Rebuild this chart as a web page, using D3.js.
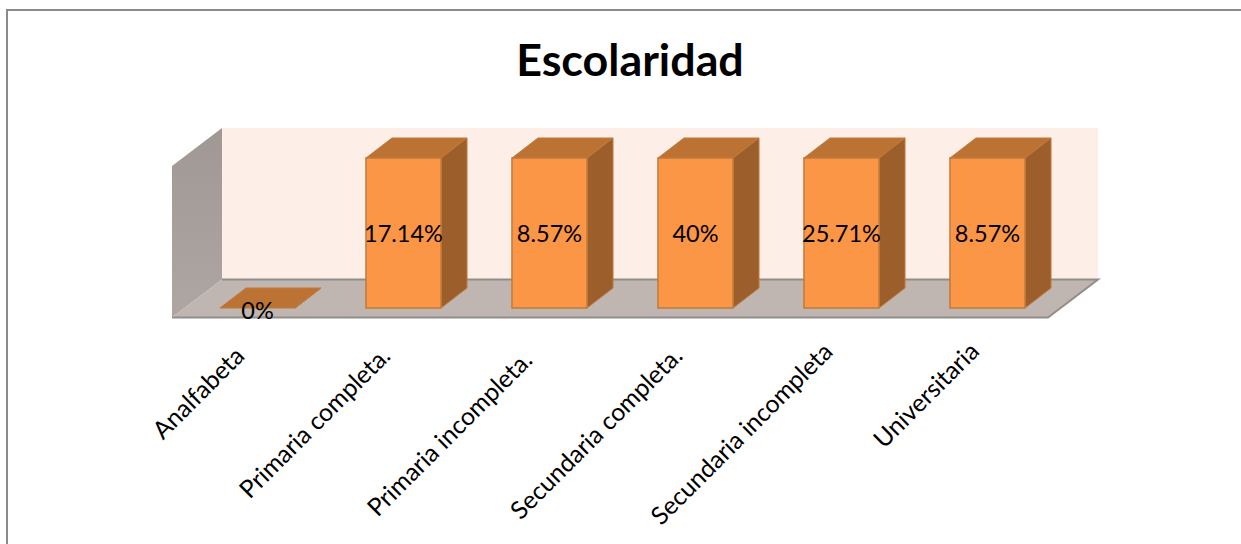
<!DOCTYPE html>
<html>
<head>
<meta charset="utf-8">
<script src="https://cdn.jsdelivr.net/npm/d3@7"></script>
<style>
    html, body { margin: 0; padding: 0; background: #fff; overflow: hidden; }
    text { font-family: Lato, "Open Sans", sans-serif; fill: #000; }
</style>
</head>
<body>
<div id="chart"></div>
<script>
var categories = ["Analfabeta", "Primaria completa.", "Primaria incompleta.", "Secundaria completa.", "Secundaria incompleta", "Universitaria"];
var values = [0, 17.14, 8.57, 40, 25.71, 8.57];
// the original axis stops at 8.57, taller bars are cut off there
var axis_domain = [0, 8.57];

var w = 1241;
var h = 544;

var left = 172;
var right = 1048;
var floor_front = 317.5;
// how far the floor/wall goes back
var depth_x = 50;
var depth_y = -38;
// how far the bars stand from the front edge of the floor
var inset_x = 12.5;
var inset_y = -9.5;
// bar depth
var bar_dx = 26;
var bar_dy = -20;

var svg = d3.select("#chart").append("svg").attr("width", w).attr("height", h);

var defs = svg.append("defs");
var grad = defs.append("linearGradient").attr("id", "side_wall").attr("x1", 0).attr("y1", 0).attr("x2", 0).attr("y2", 1);
grad.append("stop").attr("offset", "0%").attr("stop-color", "#a09895");
grad.append("stop").attr("offset", "100%").attr("stop-color", "#aea6a3");

function poly(points) {
    return points.map(function (p) { return p.join(","); }).join(" ");
}

//outer frame, open on the right and at the bottom
svg.append("path")
    .attr("d", "M7,544V10H1241")
    .attr("fill", "none")
    .attr("stroke", "#8a8a8a")
    .attr("stroke-width", 2);

svg.append("text")
    .attr("x", 630)
    .attr("y", 76)
    .attr("text-anchor", "middle")
    .attr("font-size", "44.8px")
    .attr("font-weight", "bold")
    .text("Escolaridad");

var xScale = d3.scaleBand().domain(categories).range([left, right]).paddingInner(0.486).paddingOuter(0.243);
var yScale = d3.scaleLinear().domain(axis_domain).range([floor_front + inset_y, 158]).clamp(true);

var wall_top = 128;

//back wall
svg.append("polygon")
    .attr("points", poly([[left + depth_x, wall_top], [right + depth_x, wall_top], [right + depth_x, floor_front + depth_y], [left + depth_x, floor_front + depth_y]]))
    .attr("fill", "#fdeee7");

//side wall
svg.append("polygon")
    .attr("points", poly([[left, wall_top - depth_y], [left + depth_x, wall_top], [left + depth_x, floor_front + depth_y], [left, floor_front]]))
    .attr("fill", "url(#side_wall)");

//floor
svg.append("polygon")
    .attr("points", poly([[left, floor_front], [left + depth_x, floor_front + depth_y], [right + depth_x, floor_front + depth_y], [right, floor_front]]))
    .attr("fill", "#bfb5b1");

svg.append("path")
    .attr("d", "M" + (left + depth_x) + "," + (floor_front + depth_y) + "H" + (right + depth_x) + "L" + right + "," + floor_front + "H" + left)
    .attr("fill", "none")
    .attr("stroke", "#918d8b")
    .attr("stroke-width", 2);

var bars = svg.selectAll("g.bar")
    .data(values)
    .enter()
    .append("g")
    .attr("class", "bar")
    .attr("stroke", "#c07a3c")
    .attr("stroke-width", 1);

function bar_x0(d, i) { return xScale(categories[i]) + inset_x; }
function bar_x1(d, i) { return bar_x0(d, i) + xScale.bandwidth(); }
var bar_base = yScale(0);

//top
bars.append("polygon")
    .attr("fill", "#bc7233")
    .attr("points", function (d, i) {
        var x0 = bar_x0(d, i), x1 = bar_x1(d, i), y = yScale(d);
        return poly([[x0, y], [x0 + bar_dx, y + bar_dy], [x1 + bar_dx, y + bar_dy], [x1, y]]);
    });

//side
bars.append("polygon")
    .attr("fill", "#9c5f2b")
    .attr("points", function (d, i) {
        var x1 = bar_x1(d, i), y = yScale(d);
        return poly([[x1, y], [x1 + bar_dx, y + bar_dy], [x1 + bar_dx, bar_base + bar_dy], [x1, bar_base]]);
    });

//front
bars.append("rect")
    .attr("fill", "#fb9646")
    .attr("stroke-width", 1.5)
    .attr("x", bar_x0)
    .attr("y", function (d) { return yScale(d); })
    .attr("width", xScale.bandwidth())
    .attr("height", function (d) { return bar_base - yScale(d); });

//data labels
svg.selectAll("text.value")
    .data(values)
    .enter()
    .append("text")
    .attr("class", "value")
    .attr("x", function (d, i) { return bar_x0(d, i) + xScale.bandwidth() / 2; })
    .attr("y", function (d) { return (yScale(d) + bar_base) / 2 + 8.5; })
    .attr("dy", function (d) { return d === 0 ? 2 : 0; })
    .attr("text-anchor", "middle")
    .attr("font-size", "23.5px")
    .text(function (d) { return d + "%"; });

//category labels
var xAxis = d3.axisBottom(xScale).tickSize(0).tickPadding(0);
var axis_g = svg.append("g")
    .attr("transform", "translate(0," + floor_front + ")")
    .call(xAxis);
axis_g.select(".domain").remove();
// the labels don't sit evenly in the original, slide some along their own direction
var label_slide = [0, 0, -6, 0, 6, 6.5];
axis_g.selectAll("text")
    .attr("font-size", "24.7px")
    .attr("text-anchor", "end")
    .attr("dy", null)
    .attr("dx", function (d, i) { return label_slide[i]; })
    .attr("transform", "translate(1,40) rotate(-45)");
</script>
</body>
</html>
